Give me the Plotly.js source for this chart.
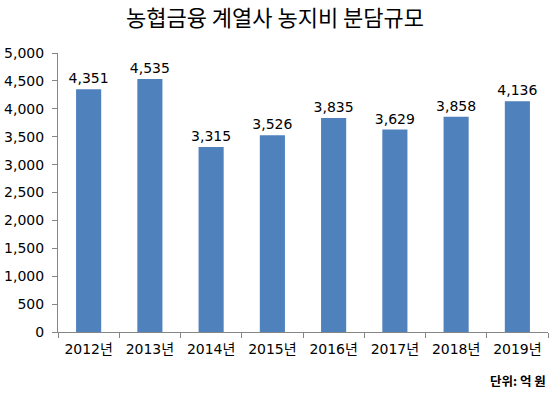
<!DOCTYPE html>
<html><head><meta charset="utf-8">
<script src="https://cdn.plot.ly/plotly-3.0.1.min.js"></script>
<style>body{margin:0}#c{width:550px;height:398px}</style>
</head><body><div id="c"></div>
<script>
const categories = ["2012년","2013년","2014년","2015년","2016년","2017년","2018년","2019년"];
const values = [4351,4535,3315,3526,3835,3629,3858,4136];
const yTicks = [0,500,1000,1500,2000,2500,3000,3500,4000,4500,5000];
const font = "Noto Sans CJK KR, sans-serif";
const numFont = "DejaVu Sans, Noto Sans CJK KR, sans-serif";
Plotly.newPlot("c", [{
  type: "bar", x: categories, y: values,
  marker: {color: "#4F81BD"},
  text: values.map(v => v.toLocaleString("en-US")),
  textposition: "outside", cliponaxis: false, constraintext: "none",
  textfont: {family: numFont, size: 14, color: "#000"},
  hoverinfo: "none"
}], {
  width: 550, height: 398,
  margin: {l: 58, r: 2, t: 53, b: 66},
  paper_bgcolor: "#fff", plot_bgcolor: "#fff",
  bargap: 0.59,
  title: {text: "농협금융 계열사 농지비 분담규모", x: 0.5, xanchor: "center", y: 0.955, yanchor: "middle",
          font: {family: font, size: 22, color: "#000"}},
  xaxis: {showline: true, linecolor: "#868686", linewidth: 1, ticks: "outside", tickson: "boundaries",
          ticklen: 5, tickcolor: "#868686", ticklabelstandoff: 4,
          tickfont: {family: numFont, size: 14, color: "#000"}, showgrid: false},
  yaxis: {range: [0, 5000], tickvals: yTicks, ticktext: yTicks.map(v => v.toLocaleString("en-US")),
          showline: true, linecolor: "#868686", linewidth: 1, ticks: "outside", ticklen: 5, tickcolor: "#868686",
          ticklabelstandoff: 5,
          tickfont: {family: numFont, size: 14, color: "#000"}, showgrid: false, zeroline: false},
  annotations: [{text: "<b>단위: 억 원</b>", xref: "paper", yref: "paper", x: 1, y: -0.175, xanchor: "right", yanchor: "middle",
                 showarrow: false, font: {family: font, size: 12.5, color: "#000"}}],
  showlegend: false
}, {displayModeBar: false, staticPlot: true});
</script></body></html>
